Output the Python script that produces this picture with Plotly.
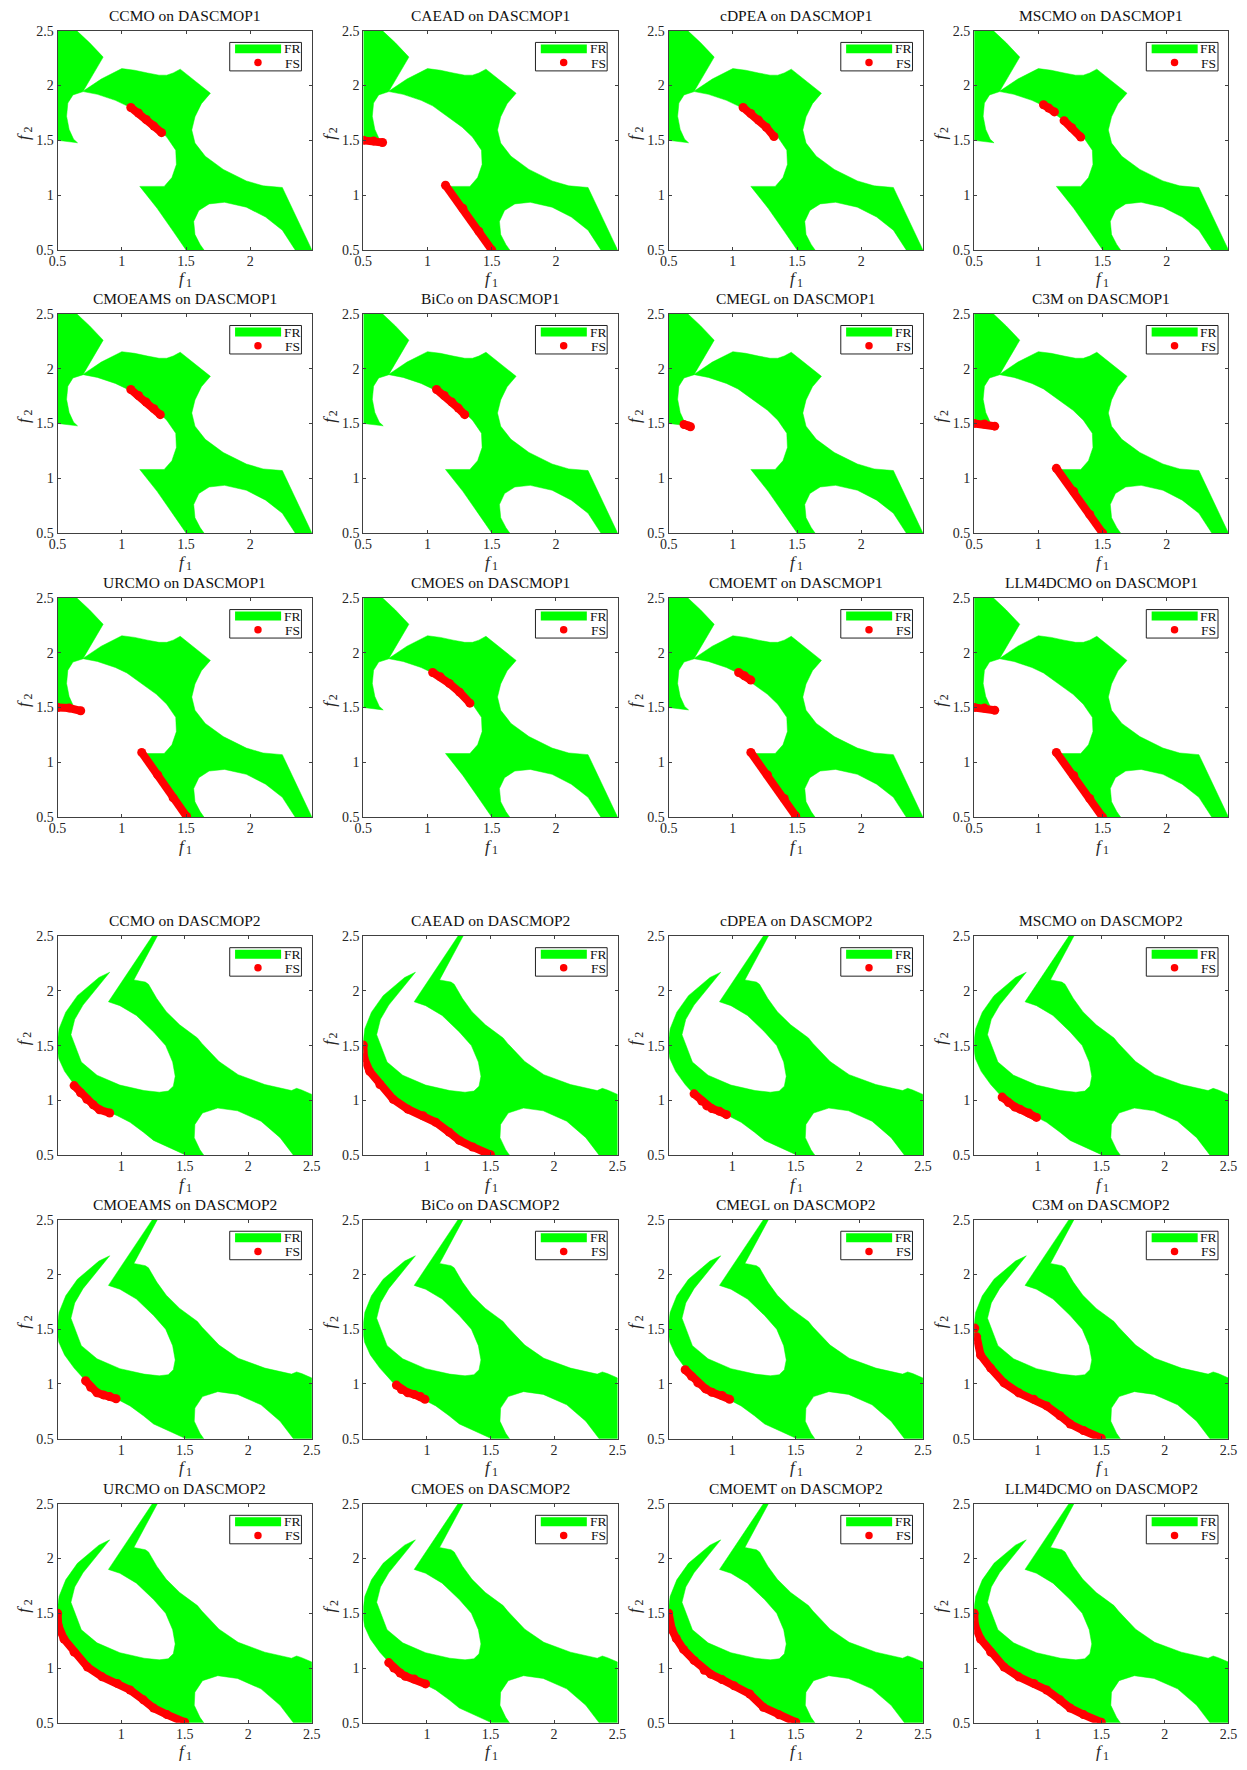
import plotly.graph_objects as go

# ---------------- data ----------------
ALGORITHMS = ["CCMO", "CAEAD", "cDPEA", "MSCMO",
              "CMOEAMS", "BiCo", "CMEGL", "C3M",
              "URCMO", "CMOES", "CMOEMT", "LLM4DCMO"]
PROBLEMS = ["DASCMOP1", "DASCMOP2"]

X1_RANGE = [0.5, 2.48]
X2_RANGE = [0.5, 2.5]
Y_RANGE = [0.5, 2.5]
X1_TICKS = [0.5, 1, 1.5, 2]
X1_TICKTEXT = ["0.5", "1", "1.5", "2"]
X2_TICKS = [1, 1.5, 2, 2.5]
X2_TICKTEXT = ["1", "1.5", "2", "2.5"]
Y_TICKS = [0.5, 1, 1.5, 2, 2.5]
Y_TICKTEXT = ["0.5", "1", "1.5", "2", "2.5"]

# feasible region (FR) outline, DASCMOP1
FR1_X = [0.50, 0.65, 0.75, 0.855, 0.70, 0.84, 1.00, 1.10, 1.20, 1.29, 1.35, 1.40, 1.455,
         1.69, 1.62, 1.57, 1.545, 1.57, 1.65, 1.79, 1.97, 2.10, 2.25, 2.48,
         2.35, 2.25, 2.12, 1.97, 1.80, 1.68, 1.60, 1.56, 1.57, 1.61, 1.64,
         1.50, 1.40, 1.275, 1.14, 1.33, 1.39, 1.425, 1.42, 1.35, 1.27, 1.20, 1.13, 1.04,
         0.95, 0.81, 0.70, 0.62, 0.58, 0.57, 0.59, 0.625, 0.655, 0.50]
FR1_Y = [2.50, 2.50, 2.39, 2.26, 1.95, 2.06, 2.155, 2.14, 2.115, 2.095, 2.095, 2.115, 2.15,
         1.93, 1.835, 1.715, 1.595, 1.475, 1.355, 1.235, 1.13, 1.085, 1.07, 0.50,
         0.50, 0.68, 0.80, 0.89, 0.935, 0.92, 0.86, 0.76, 0.64, 0.55, 0.50,
         0.50, 0.67, 0.88, 1.08, 1.08, 1.16, 1.28, 1.41, 1.53, 1.62, 1.68, 1.745, 1.815,
         1.865, 1.92, 1.945, 1.915, 1.84, 1.72, 1.60, 1.51, 1.478, 1.50]

# feasible region (FR) outline, DASCMOP2
FR2_X = [0.91, 0.86, 0.80, 0.70, 0.635, 0.605,
         0.687, 0.81, 0.99, 1.18, 1.30, 1.37, 1.41, 1.425, 1.405, 1.35, 1.255, 1.12, 0.99, 0.90,
         1.245, 1.285, 1.10, 1.19, 1.215, 1.28, 1.355, 1.46, 1.60, 1.635, 1.77, 1.92, 2.13,
         2.34, 2.38, 2.42, 2.50, 2.50,
         2.355, 2.25, 2.10, 1.915, 1.76, 1.64, 1.58, 1.575, 1.62, 1.65,
         1.51, 1.36, 1.255, 1.175, 1.07, 0.97, 0.85, 0.735, 0.63, 0.555, 0.51, 0.50,
         0.50, 0.512, 0.564, 0.656, 0.825, 0.91]
FR2_Y = [2.17, 2.10, 2.02, 1.87, 1.74, 1.60,
         1.35, 1.23, 1.14, 1.09, 1.075, 1.085, 1.13, 1.22, 1.35, 1.50, 1.625, 1.775, 1.865, 1.90,
         2.50, 2.50, 2.10, 2.08, 2.06, 1.93, 1.81, 1.69, 1.57, 1.52, 1.355, 1.235, 1.145,
         1.09, 1.11, 1.095, 1.055, 0.50,
         0.50, 0.66, 0.81, 0.905, 0.93, 0.885, 0.78, 0.66, 0.55, 0.50,
         0.50, 0.575, 0.635, 0.71, 0.80, 0.86, 0.92, 1.01, 1.145, 1.265, 1.38, 1.45,
         1.55, 1.655, 1.805, 1.956, 2.122, 2.17]

# final solutions (FS), DASCMOP1
FS1_CCMO_X = [1.07, 1.13, 1.19, 1.25, 1.31]
FS1_CCMO_Y = [1.80, 1.75, 1.69, 1.63, 1.57]
FS1_CAEAD_X = [0.50, 0.58, 0.65, None, 1.14, 1.275, 1.40, 1.50]
FS1_CAEAD_Y = [1.50, 1.495, 1.48, None, 1.09, 0.88, 0.67, 0.50]
FS1_CDPEA_X = [1.08, 1.14, 1.20, 1.26, 1.32]
FS1_CDPEA_Y = [1.80, 1.745, 1.685, 1.62, 1.535]
FS1_MSCMO_X = [1.04, 1.08, 1.125, None, 1.20, 1.26, 1.33]
FS1_MSCMO_Y = [1.825, 1.795, 1.76, None, 1.68, 1.615, 1.53]
FS1_CMOEAMS_X = [1.07, 1.13, 1.19, 1.25, 1.30]
FS1_CMOEAMS_Y = [1.81, 1.755, 1.695, 1.635, 1.58]
FS1_BICO_X = [1.07, 1.13, 1.19, 1.24, 1.29]
FS1_BICO_Y = [1.81, 1.755, 1.695, 1.64, 1.58]
FS1_CMEGL_X = [0.62, 0.65, 0.67]
FS1_CMEGL_Y = [1.49, 1.48, 1.47]
FS1_C3M_X = [0.50, 0.58, 0.66, None, 1.14, 1.275, 1.40, 1.50]
FS1_C3M_Y = [1.50, 1.495, 1.475, None, 1.09, 0.88, 0.67, 0.50]
FS1_URCMO_X = [0.50, 0.59, 0.68, None, 1.155, 1.28, 1.40, 1.505]
FS1_URCMO_Y = [1.50, 1.495, 1.47, None, 1.09, 0.885, 0.675, 0.505]
FS1_CMOES_X = [1.04, 1.10, 1.17, 1.25, 1.33]
FS1_CMOES_Y = [1.82, 1.78, 1.72, 1.64, 1.54]
FS1_CMOEMT_X = [1.045, 1.09, 1.14, None, 1.14, 1.27, 1.40, 1.49]
FS1_CMOEMT_Y = [1.82, 1.79, 1.75, None, 1.09, 0.885, 0.67, 0.51]
FS1_LLM4DCMO_X = [0.50, 0.58, 0.66, None, 1.14, 1.275, 1.40, 1.50]
FS1_LLM4DCMO_Y = [1.50, 1.495, 1.475, None, 1.09, 0.88, 0.67, 0.50]

# final solutions (FS), DASCMOP2
FS2_CCMO_X = [0.63, 0.68, 0.73, 0.78, 0.83, 0.91]
FS2_CCMO_Y = [1.135, 1.07, 1.01, 0.96, 0.915, 0.885]
FS2_CAEAD_X = [0.50, 0.505, 0.55, 0.63, 0.735, 0.85, 0.97, 1.07, 1.175, 1.255, 1.36, 1.50]
FS2_CAEAD_Y = [1.505, 1.39, 1.265, 1.145, 1.01, 0.92, 0.86, 0.80, 0.71, 0.635, 0.575, 0.505]
FS2_CDPEA_X = [0.70, 0.76, 0.80, 0.84, 0.90, 0.955]
FS2_CDPEA_Y = [1.06, 0.995, 0.95, 0.925, 0.90, 0.87]
FS2_MSCMO_X = [0.72, 0.77, 0.82, 0.86, 0.93, 0.99]
FS2_MSCMO_Y = [1.03, 0.98, 0.94, 0.92, 0.885, 0.845]
FS2_CMOEAMS_X = [0.72, 0.76, 0.81, 0.86, 0.91, 0.96]
FS2_CMOEAMS_Y = [1.03, 0.97, 0.92, 0.90, 0.885, 0.865]
FS2_BICO_X = [0.76, 0.80, 0.85, 0.90, 0.95, 0.985]
FS2_BICO_Y = [0.99, 0.95, 0.92, 0.905, 0.885, 0.86]
FS2_CMEGL_X = [0.63, 0.68, 0.73, 0.79, 0.84, 0.92, 0.98]
FS2_CMEGL_Y = [1.13, 1.07, 1.01, 0.955, 0.925, 0.895, 0.86]
FS2_C3M_X = [0.505, None, 0.52, 0.55, 0.63, 0.735, 0.85, 0.97, 1.07, 1.175, 1.255, 1.36, 1.50]
FS2_C3M_Y = [1.51, None, 1.43, 1.265, 1.145, 1.01, 0.92, 0.86, 0.80, 0.71, 0.635, 0.575, 0.505]
FS2_URCMO_X = [0.50, 0.505, 0.55, 0.63, 0.735, 0.85, 0.97, 1.07, 1.175, 1.255, 1.36, 1.50]
FS2_URCMO_Y = [1.50, 1.39, 1.265, 1.145, 1.01, 0.92, 0.86, 0.80, 0.71, 0.635, 0.575, 0.505]
FS2_CMOES_X = [0.70, 0.74, 0.79, 0.83, 0.90, 0.99]
FS2_CMOES_Y = [1.05, 1.00, 0.955, 0.925, 0.90, 0.855]
FS2_CMOEMT_X = [0.50, 0.525, 0.56, 0.617, 0.70, 0.78, 0.831, 0.92, 1.015, 1.138, 1.245, 1.368, 1.50]
FS2_CMOEMT_Y = [1.50, 1.352, 1.27, 1.17, 1.07, 0.98, 0.944, 0.895, 0.838, 0.763, 0.642, 0.573, 0.506]
FS2_LLM4DCMO_X = [0.50, 0.505, 0.55, 0.63, 0.735, 0.85, 0.97, 1.07, 1.175, 1.255, 1.36, 1.50]
FS2_LLM4DCMO_Y = [1.50, 1.39, 1.265, 1.145, 1.01, 0.92, 0.86, 0.80, 0.71, 0.635, 0.575, 0.505]

FS_TABLE = {
    "DASCMOP1": [(FS1_CCMO_X, FS1_CCMO_Y), (FS1_CAEAD_X, FS1_CAEAD_Y), (FS1_CDPEA_X, FS1_CDPEA_Y),
                 (FS1_MSCMO_X, FS1_MSCMO_Y), (FS1_CMOEAMS_X, FS1_CMOEAMS_Y), (FS1_BICO_X, FS1_BICO_Y),
                 (FS1_CMEGL_X, FS1_CMEGL_Y), (FS1_C3M_X, FS1_C3M_Y), (FS1_URCMO_X, FS1_URCMO_Y),
                 (FS1_CMOES_X, FS1_CMOES_Y), (FS1_CMOEMT_X, FS1_CMOEMT_Y), (FS1_LLM4DCMO_X, FS1_LLM4DCMO_Y)],
    "DASCMOP2": [(FS2_CCMO_X, FS2_CCMO_Y), (FS2_CAEAD_X, FS2_CAEAD_Y), (FS2_CDPEA_X, FS2_CDPEA_Y),
                 (FS2_MSCMO_X, FS2_MSCMO_Y), (FS2_CMOEAMS_X, FS2_CMOEAMS_Y), (FS2_BICO_X, FS2_BICO_Y),
                 (FS2_CMEGL_X, FS2_CMEGL_Y), (FS2_C3M_X, FS2_C3M_Y), (FS2_URCMO_X, FS2_URCMO_Y),
                 (FS2_CMOES_X, FS2_CMOES_Y), (FS2_CMOEMT_X, FS2_CMOEMT_Y), (FS2_LLM4DCMO_X, FS2_LLM4DCMO_Y)],
}
FR_TABLE = {"DASCMOP1": (FR1_X, FR1_Y), "DASCMOP2": (FR2_X, FR2_Y)}
XAXIS_TABLE = {"DASCMOP1": (X1_RANGE, X1_TICKS, X1_TICKTEXT),
               "DASCMOP2": (X2_RANGE, X2_TICKS, X2_TICKTEXT)}

# ---------------- layout geometry ----------------
W, H = 1247, 1770
COL_LEFT = [49.3, 359.5, 669.3, 979.3]
ROW_TOP = [24.0, 309.5, 596.0, 937.0, 1223.0, 1509.5]
AX_W, AX_H = 258.0, 221.0

FONT = "Times New Roman, Liberation Serif, serif"
GREEN = "#00ff00"
RED = "#ff0000"
AXC = "#404040"
TXT = "#262626"

fig = go.Figure()
layout = dict(width=W, height=H, margin=dict(l=0, r=0, t=0, b=0),
              paper_bgcolor="white", plot_bgcolor="white", showlegend=False)
shapes, annotations = [], []


def note(text, xd, yd, x, y, size, xanchor="center", yanchor="middle",
         xshift=0, yshift=0, angle=0, italic=False, color="#111111"):
    f = dict(family=FONT, size=size, color=color)
    if italic:
        f["style"] = "italic"
    annotations.append(dict(text=text, x=x, y=y, xref=xd, yref=yd, xanchor=xanchor,
                            yanchor=yanchor, xshift=xshift, yshift=yshift, textangle=angle,
                            showarrow=False, font=f))


n = 0
for p, prob in enumerate(PROBLEMS):
    frx, fry = FR_TABLE[prob]
    xr, xt, xtt = XAXIS_TABLE[prob]
    for i, alg in enumerate(ALGORITHMS):
        n += 1
        row = p * 3 + i // 4
        col = i % 4
        sfx = "" if n == 1 else str(n)
        xa, ya = "x" + sfx, "y" + sfx
        x0 = COL_LEFT[col] / W
        x1 = (COL_LEFT[col] + AX_W) / W
        y1 = 1 - ROW_TOP[row] / H
        y0 = 1 - (ROW_TOP[row] + AX_H) / H

        fig.add_trace(go.Scatter(x=frx, y=fry, mode="lines", fill="toself",
                                 fillcolor=GREEN, line=dict(color=GREEN, width=0.5),
                                 xaxis=xa, yaxis=ya, hoverinfo="skip", name="FR"))
        fsx, fsy = FS_TABLE[prob][i]
        fig.add_trace(go.Scatter(x=fsx, y=fsy, mode="lines+markers",
                                 line=dict(color=RED, width=8),
                                 marker=dict(color=RED, size=9),
                                 connectgaps=False, xaxis=xa, yaxis=ya, name="FS"))

        common = dict(ticks="inside", ticklen=3, tickwidth=1, tickcolor=AXC,
                      showline=True, linecolor=AXC, linewidth=1, mirror="ticks",
                      showgrid=False, zeroline=False,
                      tickfont=dict(family=FONT, size=14, color=TXT))
        layout["xaxis" + sfx] = dict(domain=[x0, x1], range=xr, tickvals=xt, ticktext=xtt,
                                     anchor=ya, ticklabelstandoff=-2, **common)
        layout["yaxis" + sfx] = dict(domain=[y0, y1], range=Y_RANGE, tickvals=Y_TICKS,
                                     ticktext=Y_TICKTEXT, anchor=xa, ticklabelstandoff=0,
                                     **common)

        xd, yd = xa + " domain", ya + " domain"
        # title
        note(alg + " on " + prob, xd, yd, 0.5, 1.0, 15.5, yanchor="bottom", yshift=5)
        # axis labels
        note("f", xd, yd, 0.5, 0.0, 17, xshift=-2, yshift=-29, italic=True, color=TXT)
        note("1", xd, yd, 0.5, 0.0, 12, xshift=4.5, yshift=-33, color=TXT)
        note("f", xd, yd, 0.0, 0.5, 17, xshift=-34, yshift=4, angle=-90, italic=True, color=TXT)
        note("2", xd, yd, 0.0, 0.5, 12, xshift=-30, yshift=10.5, angle=-90, color=TXT)
        # legend box
        shapes.append(dict(type="rect", xref=xd, yref=yd, x0=0.677, x1=0.959, y0=0.817, y1=0.947,
                           line=dict(color="#222222", width=1), fillcolor="white"))
        shapes.append(dict(type="rect", xref=xd, yref=yd, x0=0.698, x1=0.879, y0=0.897, y1=0.938,
                           line=dict(width=0), fillcolor=GREEN))
        r_x = 3.8 / AX_W
        r_y = 3.8 / AX_H
        shapes.append(dict(type="circle", xref=xd, yref=yd, x0=0.788 - r_x, x1=0.788 + r_x,
                           y0=0.855 - r_y, y1=0.855 + r_y, line=dict(width=0), fillcolor=RED))
        note("FR", xd, yd, 0.882, 0.917, 13.5, xanchor="left")
        note("FS", xd, yd, 0.886, 0.853, 13.5, xanchor="left")

layout["shapes"] = shapes
layout["annotations"] = annotations
fig.update_layout(**layout)
fig.write_html("out.html")
